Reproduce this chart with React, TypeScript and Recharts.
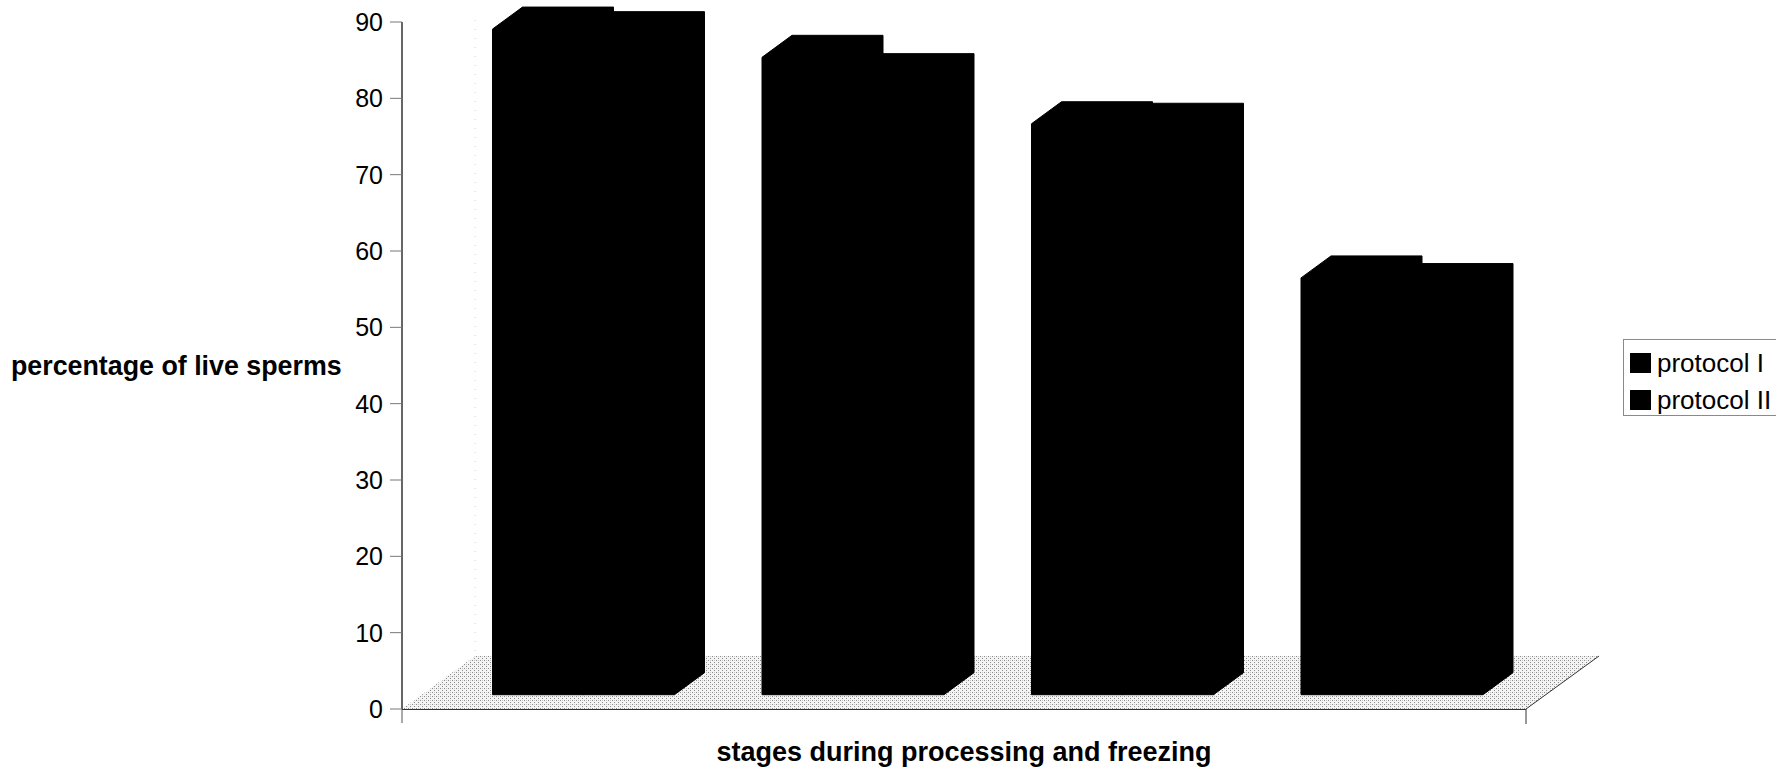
import React from 'react';
import { BarChart, Bar, XAxis, YAxis, Legend, Customized } from 'recharts';

// stages along the x axis (no tick labels are drawn for them)
const stages = ['stage 1', 'stage 2', 'stage 3', 'stage 4'];
const protocolI = [87.2, 83.5, 74.8, 54.6];
const protocolII = [86.6, 81.1, 74.6, 53.6];
const yTicks = [0, 10, 20, 30, 40, 50, 60, 70, 80, 90];

const data = stages.map((stage, i) => ({
  stage,
  p1: protocolI[i],
  p2: protocolII[i],
}));

const FONT = '"Liberation Sans", Arial, Helvetica, sans-serif';

// layout of the pseudo-3D frame
const CHART_W = 1776;
const CHART_H = 769;
const Y_AXIS_W = 402;
const X_AXIS_H = 60;
const MARGIN_RIGHT = 250;
const PLOT_BOTTOM = CHART_H - X_AXIS_H;
const PLOT_RIGHT = CHART_W - MARGIN_RIGHT;

// depth of the floor and offsets of the bar faces
const FLOOR_DX = 73;
const FLOOR_DY = 53;
const FRONT_DX = 19.5;
const FRONT_DY = 14.3;
const DEPTH_DX = 30;
const DEPTH_DY = 22;

// all faces are black, so the column is drawn as its outline only
const Column3D = (props: any) => {
  const { x, y, width, height, fill } = props;
  const fx = x + FRONT_DX;
  const fy = y - FRONT_DY;
  const bx = fx + DEPTH_DX;
  const by = fy - DEPTH_DY;
  const d = [
    `M${fx},${fy + height}`,
    `L${fx},${fy}`,
    `L${bx},${by}`,
    `L${bx + width},${by}`,
    `L${bx + width},${by + height}`,
    `L${fx + width},${fy + height}`,
    'Z',
  ].join(' ');
  return <path d={d} fill={fill} stroke={fill} strokeWidth={1} strokeLinejoin="miter" />;
};

const Floor = () => {
  const l = Y_AXIS_W;
  const r = PLOT_RIGHT;
  const b = PLOT_BOTTOM;
  return (
    <g>
      <defs>
        <pattern id="floorDither" width="4" height="4" patternUnits="userSpaceOnUse">
          <rect width="4" height="4" fill="#f4f4f4" />
          <rect x="0" y="0" width="1" height="1" fill="#8a8a8a" />
          <rect x="2" y="2" width="1" height="1" fill="#8a8a8a" />
          <rect x="2" y="0" width="1" height="1" fill="#c8c8c8" />
        </pattern>
      </defs>
      {/* back-left corner of the walls */}
      <line x1={l + FLOOR_DX} y1={20} x2={l + FLOOR_DX} y2={b - FLOOR_DY} stroke="#d0d0d0" strokeDasharray="1 8" />
      <polygon
        points={`${l},${b} ${r},${b} ${r + FLOOR_DX},${b - FLOOR_DY} ${l + FLOOR_DX},${b - FLOOR_DY}`}
        fill="url(#floorDither)"
      />
      <line x1={l} y1={b + 0.5} x2={r} y2={b + 0.5} stroke="#333" strokeWidth={1} />
      <line x1={r} y1={b} x2={r + FLOOR_DX} y2={b - FLOOR_DY} stroke="#333" strokeWidth={1} />
      <line x1={l} y1={b} x2={l} y2={b + 14} stroke="#555" strokeWidth={1} />
      <line x1={r} y1={b} x2={r} y2={b + 15} stroke="#333" strokeWidth={1} />
    </g>
  );
};

const renderLegend = (props: any) => {
  const { payload } = props;
  return (
    <div
      style={{
        width: 190,
        height: 77,
        border: '1px solid #8a8a8a',
        boxSizing: 'border-box',
        paddingTop: 8,
        paddingLeft: 6,
        background: '#fff',
        fontFamily: FONT,
        fontSize: 26,
        color: '#000',
      }}
    >
      {(payload || []).map((entry: any) => (
        <div
          key={entry.value}
          style={{ display: 'flex', alignItems: 'center', height: 30, marginBottom: 7, lineHeight: 1 }}
        >
          <span style={{ display: 'inline-block', width: 21, height: 20, background: entry.color, marginRight: 6 }} />
          <span>{entry.value}</span>
        </div>
      ))}
    </div>
  );
};

export default function App() {
  return (
    <div
      style={{
        position: 'absolute',
        left: 0,
        top: 0,
        width: CHART_W,
        height: CHART_H,
        overflow: 'hidden',
        background: '#fff',
      }}
    >
      <BarChart
        width={CHART_W}
        height={CHART_H}
        data={data}
        margin={{ top: 22, right: MARGIN_RIGHT, bottom: 0, left: 0 }}
        barCategoryGap={44}
        barGap={0}
      >
        <Customized component={Floor} />
        <XAxis
          dataKey="stage"
          height={X_AXIS_H}
          padding={{ left: 27, right: 19 }}
          tick={false}
          tickLine={false}
          axisLine={false}
          label={{
            value: 'stages during processing and freezing',
            position: 'insideBottom',
            offset: 8,
            style: { fontFamily: FONT, fontSize: 27, fontWeight: 'bold', fill: '#000' },
          }}
        />
        <YAxis
          width={Y_AXIS_W}
          domain={[0, 90]}
          ticks={yTicks}
          interval={0}
          tickSize={12}
          tickMargin={7}
          axisLine={{ stroke: '#000', strokeWidth: 1.2 }}
          tickLine={{ stroke: '#777', strokeWidth: 1 }}
          tick={{ fill: '#000', fontSize: 25, fontFamily: FONT }}
          label={{
            value: 'percentage of live sperms',
            position: 'insideLeft',
            offset: 11,
            angle: 0,
            style: { fontFamily: FONT, fontSize: 26.8, fontWeight: 'bold', fill: '#000', textAnchor: 'start' },
          }}
        />
        <Legend
          layout="horizontal"
          verticalAlign="middle"
          content={renderLegend}
          wrapperStyle={{ position: 'absolute', left: 1623, top: 339, width: 190 }}
        />
        <Bar dataKey="p1" name="protocol I" fill="#000" shape={Column3D} isAnimationActive={false} />
        <Bar dataKey="p2" name="protocol II" fill="#000" shape={Column3D} isAnimationActive={false} />
      </BarChart>
    </div>
  );
}
